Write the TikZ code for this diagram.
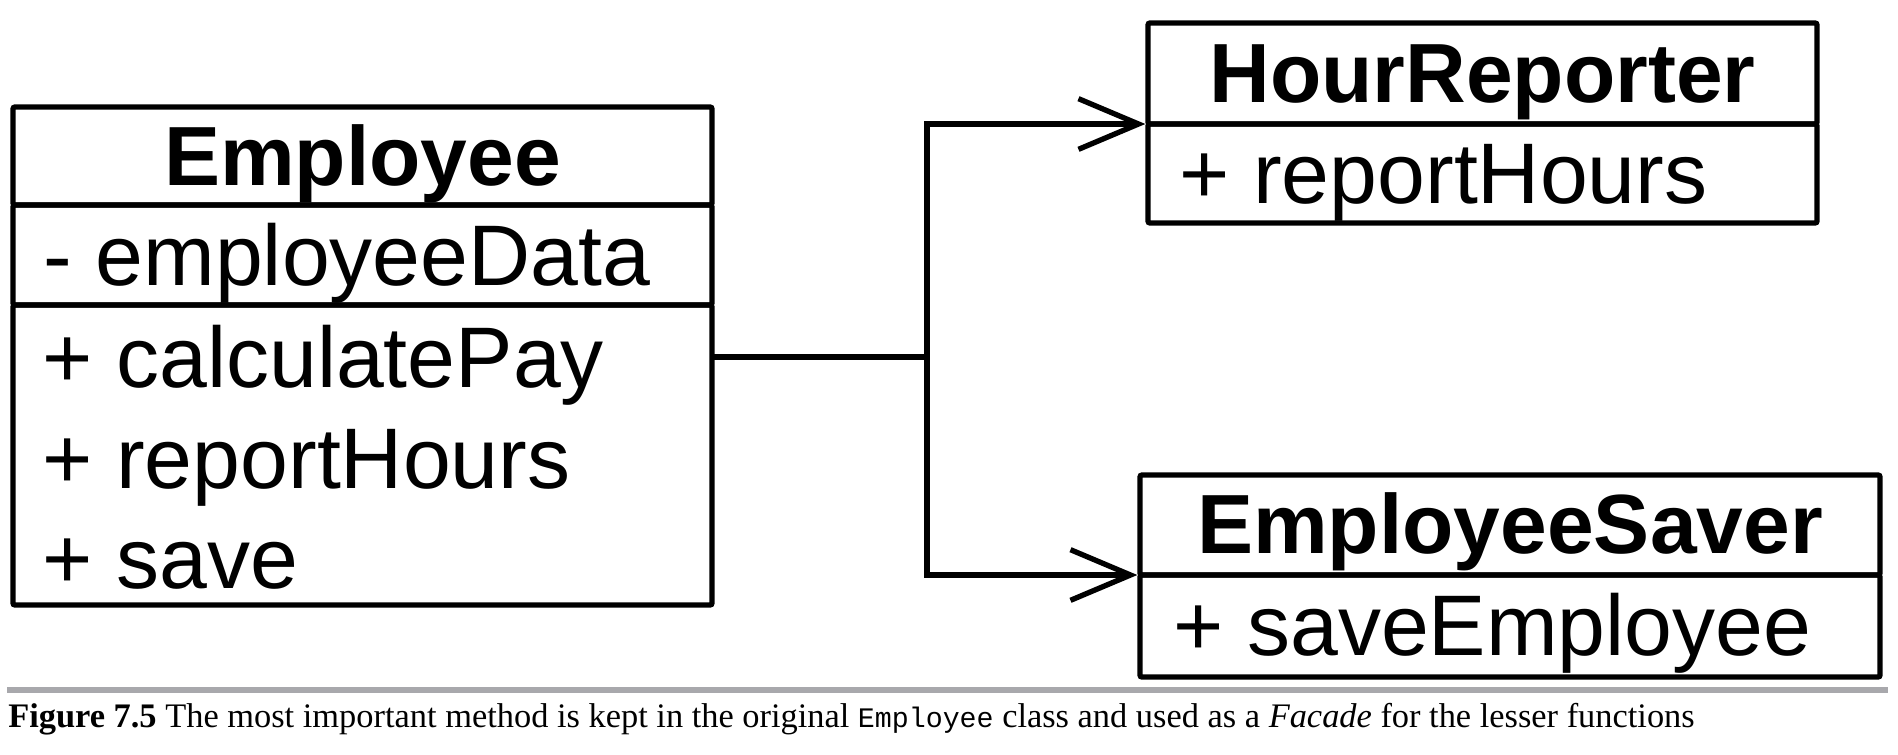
\documentclass[tikz,border=0pt]{standalone}
\usepackage{fontspec}
\setmainfont{Liberation Serif}
\setmonofont{Liberation Mono}
\newfontfamily\umlfont{Liberation Sans}
\usetikzlibrary{arrows.meta,fit}
\definecolor{rulegray}{RGB}{168,168,172}
\begin{document}
\begin{tikzpicture}[x=0.75pt,y=-0.75pt,
  cls/.style={draw, line width=4pt, inner sep=0pt, outer sep=0pt, rounded corners=1.5pt},
  ctitle/.style={font=\umlfont\bfseries\fontsize{63}{70}\selectfont, anchor=base, inner sep=0pt},
  member/.style={font=\umlfont\fontsize{64.5}{70}\selectfont, anchor=base west, inner sep=0pt},
  conn/.style={line width=4pt},
  assoc/.style={conn, -{Straight Barb[length=45pt,width=38pt]}}]
\useasboundingbox (0,0) rectangle (1898,754);
% Employee
\node[cls, fit={(13,107) (712,205)}] (emp-t) {};
\node[cls, fit={(13,205) (712,305)}] (emp-a) {};
\node[cls, fit={(13,305) (712,605)}] (emp-o) {};
\node[ctitle] (emp-name) at (362.5,185) {Employee};
\node[member] (emp-attr) at (43,285) {- employeeData};
\node[member] (emp-op1) at (42,387) {+ calculatePay};
\node[member] (emp-op2) at (42,488) {+ reportHours};
\node[member] (emp-op3) at (42,588) {+ save};
% HourReporter
\node[cls, fit={(1148,23) (1817,124)}] (hr-t) {};
\node[cls, fit={(1148,124) (1817,223)}] (hr-o) {};
\node[ctitle] (hr-name) at (1482.5,102) {HourReporter};
\node[member] (hr-op1) at (1179,203) {+ reportHours};
% EmployeeSaver
\node[cls, fit={(1140,475) (1880,575)}] (es-t) {};
\node[cls, fit={(1140,575) (1880,677)}] (es-o) {};
\node[ctitle] (es-name) at (1510,553) {EmployeeSaver};
\node[member] (es-op1) at (1173,655) {+ saveEmployee};
% connectors
\coordinate (junc) at (927,357);
\draw[conn] (emp-o.east |- junc) -- (junc);
\draw[assoc] (junc) |- ([xshift=-2pt]hr-t.south west);
\draw[assoc] (junc) |- ([xshift=-2pt]es-t.south west);
% caption
\draw[rulegray, line width=4.5pt] (7,690) -- (1888,690);
\node[anchor=base west, inner sep=0pt, font=\fontsize{25.8}{30}\selectfont] (caption) at (8,727)
  {\textbf{Figure 7.5} The most important method is kept in the original {\ttfamily\fontsize{21.2}{25}\selectfont Employee} class and used as a \textit{Facade} for the lesser functions};
\end{tikzpicture}
\end{document}
